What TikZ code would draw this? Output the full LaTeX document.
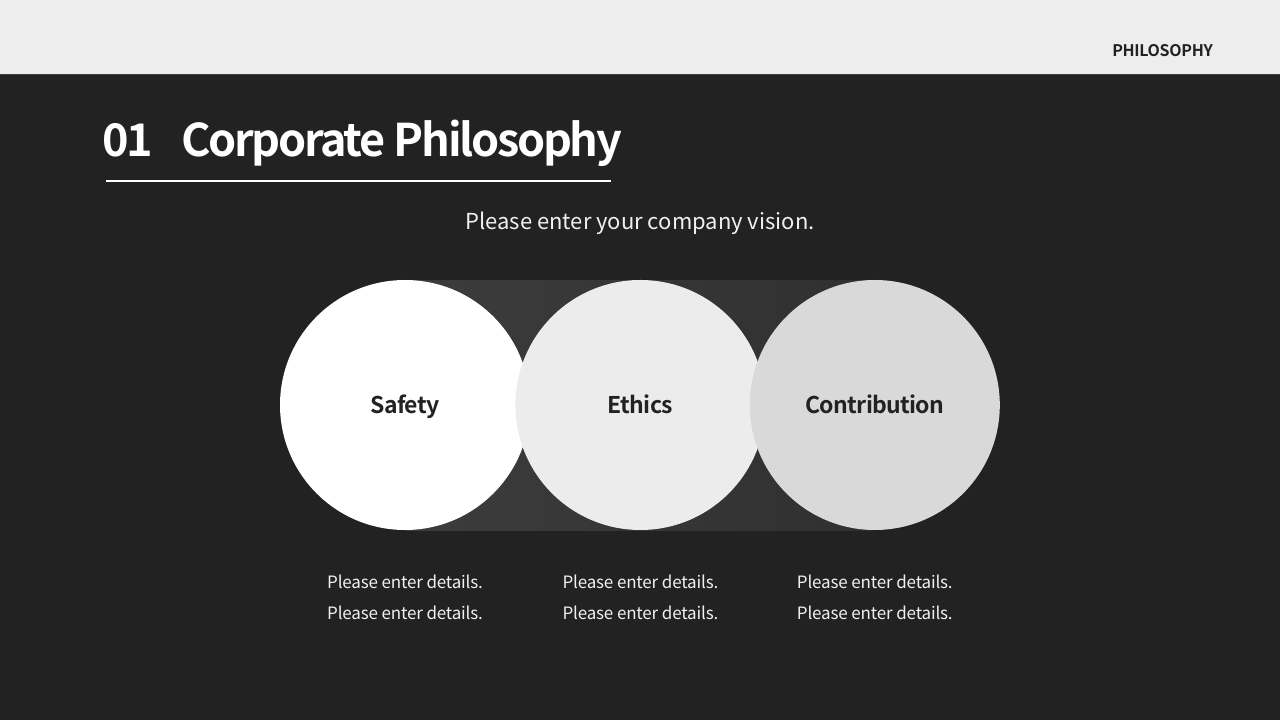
\documentclass[tikz,border=0pt]{standalone}
\usepackage{fontspec}
\setmainfont{Noto Sans CJK KR}[BoldFont={Noto Sans CJK KR Bold}]
\usetikzlibrary{positioning}
\definecolor{pagebg}{HTML}{222222}
\definecolor{headbg}{HTML}{EDEDED}
\definecolor{inkdark}{HTML}{222222}
\definecolor{bandL}{HTML}{3C3C3C}
\definecolor{bandR}{HTML}{303030}
\definecolor{discA}{HTML}{FFFFFF}
\definecolor{discB}{HTML}{ECECEC}
\definecolor{discC}{HTML}{D9D9D9}
\tikzset{
  disc/.style={circle,minimum size=250pt,inner sep=0pt,text=inkdark,
    text height=16.9pt,text depth=0pt,
    font=\bfseries\fontsize{23}{26}\selectfont\addfontfeatures{LetterSpace=-3}},
  detail/.style={align=center,text=white!94!black,inner sep=0pt,
    font=\fontsize{17}{31}\selectfont\addfontfeatures{LetterSpace=-1}},
  heading/.style={text=white,inner sep=0pt,
    font=\bfseries\fontsize{45}{50}\selectfont\addfontfeatures{LetterSpace=-5}},
}

\begin{document}
\begin{tikzpicture}[x=1pt,y=1pt]
  \useasboundingbox (0,0) rectangle (1280,720);
  \fill[pagebg] (0,0) rectangle (1280,720);
  \fill[headbg] (0,646) rectangle (1280,720);
  \draw[black!75,line width=1pt] (0,645.5) -- (1280,645.5);
  \node[anchor=east,text=inkdark,inner sep=0pt,
    font=\bfseries\fontsize{16}{18}\selectfont\addfontfeatures{LetterSpace=-2}]
    (tag) at (1213,669) {PHILOSOPHY};

  % title
  \node[heading,anchor=base west] (num)   at (102,563) {01};
  \node[heading,anchor=base west] (title) at (181,563) {Corporate Philosophy};
  \draw[white,line width=2pt] (106,539) -- (611,539);
  \node[anchor=base,text=white!94!black,inner sep=0pt,font=\fontsize{22}{26}\selectfont]
    (vision) at (640,490) {Please enter your company vision.};

  % circles
  \fill[left color=bandL,right color=bandR] (405,189) rectangle (874,439);
  \node[disc,fill=discA] (safety) at (405,315) {Safety};
  \node[disc,fill=discB,right=-15pt of safety] (ethics) {Ethics};
  \node[disc,fill=discC,right=-16pt of ethics] (contrib) {Contribution};

  \node[detail] (d1) at ([yshift=-67pt]safety.south)  {Please enter details.\\Please enter details.};
  \node[detail] (d2) at ([yshift=-67pt]ethics.south)  {Please enter details.\\Please enter details.};
  \node[detail] (d3) at ([yshift=-67pt]contrib.south) {Please enter details.\\Please enter details.};
\end{tikzpicture}
\end{document}
